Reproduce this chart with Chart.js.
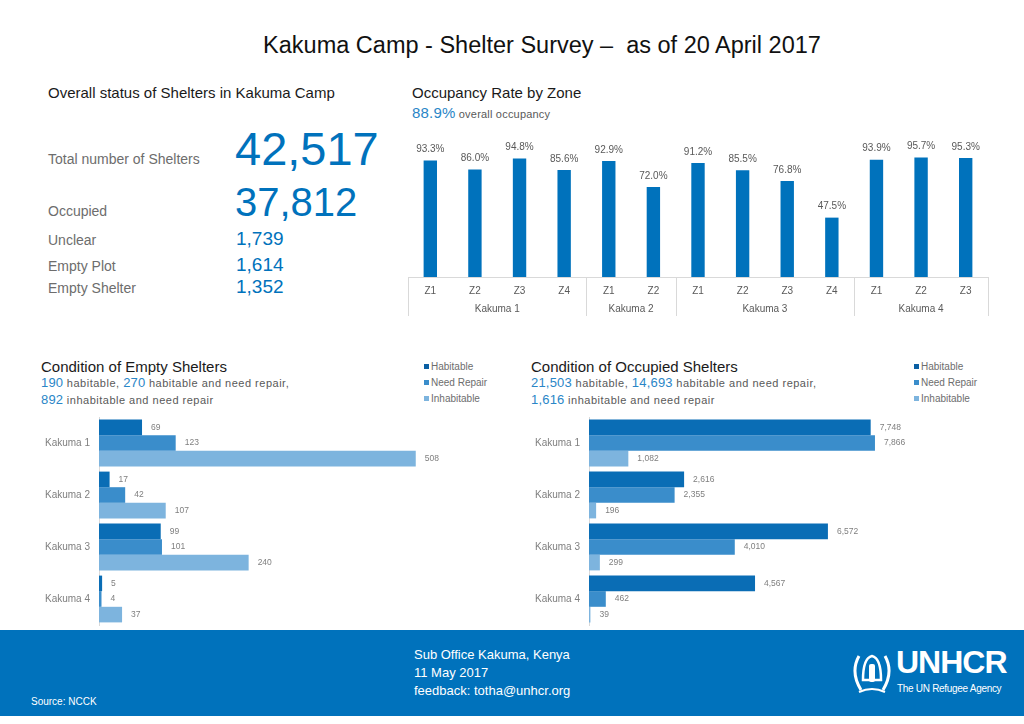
<!DOCTYPE html>
<html>
<head>
<meta charset="utf-8">
<title>Kakuma Camp - Shelter Survey</title>
<script src="https://cdn.jsdelivr.net/npm/chart.js@4/dist/chart.umd.min.js"></script>
<style>
  body { margin: 0; width: 1024px; height: 724px; position: relative; background: #fff;
         font-family: "Liberation Sans", Arial, sans-serif; color: #262626; overflow: hidden; }
  .abs { position: absolute; white-space: nowrap; }
  .blue { color: #0072bc; }
  .gray { color: #6d6d6d; }
  .hdr { font-size: 15px; color: #1a1a1a; }
  .sub { font-size: 11px; color: #595959; letter-spacing: 0.5px; }
  .sub b { font-weight: normal; font-size: 13px; color: #2a86c7; letter-spacing: 0.2px; }
  .legend div { font-size: 10px; color: #6d6d6d; height: 16px; line-height: 16px; }
  .legend span { display: inline-block; width: 5px; height: 5px; margin-right: 2px; vertical-align: 1px; }
  canvas { position: absolute; }
  #footer { position: absolute; left: 0; top: 630px; width: 1024px; height: 86px; background: #0072bc; color: #fff; }
</style>
</head>
<body>

<div class="abs" style="left:0;width:1084px;text-align:center;top:32px;font-size:23.5px;color:#111;">Kakuma Camp - Shelter Survey &ndash;&nbsp; as of 20 April 2017</div>

<!-- overall status block -->
<div class="abs hdr" style="left:48px;top:84px;">Overall status of Shelters in Kakuma Camp</div>
<div class="abs gray" style="left:48px;top:151px;font-size:14px;">Total number of Shelters</div>
<div class="abs blue" style="left:235px;top:121px;font-size:47px;">42,517</div>
<div class="abs gray" style="left:48px;top:203px;font-size:14px;">Occupied</div>
<div class="abs blue" style="left:235px;top:180px;font-size:40px;">37,812</div>
<div class="abs gray" style="left:48px;top:232px;font-size:14px;">Unclear</div>
<div class="abs blue" style="left:236px;top:228px;font-size:19px;">1,739</div>
<div class="abs gray" style="left:48px;top:258px;font-size:14px;">Empty Plot</div>
<div class="abs blue" style="left:236px;top:254px;font-size:19px;">1,614</div>
<div class="abs gray" style="left:48px;top:280px;font-size:14px;">Empty Shelter</div>
<div class="abs blue" style="left:236px;top:276px;font-size:19px;">1,352</div>

<!-- occupancy -->
<div class="abs hdr" style="left:412px;top:84px;">Occupancy Rate by Zone</div>
<div class="abs sub" style="left:412px;top:104px;letter-spacing:0.2px;"><b style="font-size:15px;">88.9%</b> overall occupancy</div>
<canvas id="occChart" width="596" height="192" style="left:400px;top:130px;"></canvas>

<!-- empty shelters -->
<div class="abs hdr" style="left:41px;top:358px;">Condition of Empty Shelters</div>
<div class="abs sub" style="left:41px;top:375px;"><b>190</b> habitable, <b>270</b> habitable and need repair,</div>
<div class="abs sub" style="left:41px;top:392px;"><b>892</b> inhabitable and need repair</div>
<div class="abs legend" style="left:424px;top:359px;">
  <div><span style="background:#0a5fa3"></span>Habitable</div>
  <div><span style="background:#3a8dcb"></span>Need Repair</div>
  <div><span style="background:#7db4de"></span>Inhabitable</div>
</div>
<canvas id="emptyChart" width="460" height="238" style="left:30px;top:402px;"></canvas>

<!-- occupied shelters -->
<div class="abs hdr" style="left:531px;top:358px;">Condition of Occupied Shelters</div>
<div class="abs sub" style="left:531px;top:375px;"><b>21,503</b> habitable, <b>14,693</b> habitable and need repair,</div>
<div class="abs sub" style="left:531px;top:392px;"><b>1,616</b> inhabitable and need repair</div>
<div class="abs legend" style="left:914px;top:359px;">
  <div><span style="background:#0a5fa3"></span>Habitable</div>
  <div><span style="background:#3a8dcb"></span>Need Repair</div>
  <div><span style="background:#7db4de"></span>Inhabitable</div>
</div>
<canvas id="occupiedChart" width="470" height="238" style="left:520px;top:402px;"></canvas>

<div id="footer">
  <div class="abs" style="left:414px;top:16px;font-size:13px;line-height:18px;">Sub Office Kakuma, Kenya<br>11 May 2017<br>feedback: totha@unhcr.org</div>
  <div class="abs" style="left:31px;top:66px;font-size:10px;">Source: NCCK</div>
  <svg class="abs" style="left:849px;top:20px;" width="46" height="46" viewBox="0 0 46 46">
    <path d="M10 6 Q1 22 12 40" stroke="#fff" stroke-width="3" fill="none"/>
    <path d="M36 6 Q45 22 34 40" stroke="#fff" stroke-width="3" fill="none"/>
    <path d="M14 30 Q14 8 23 6 Q32 8 32 30 Z" fill="none" stroke="#fff" stroke-width="2.5"/>
    <rect x="20" y="14" width="6" height="18" rx="2" fill="#fff"/>
    <path d="M10 42 Q23 36 36 42" stroke="#fff" stroke-width="2" fill="none"/>
  </svg>
  <div class="abs" style="left:896px;top:14px;font-size:32px;font-weight:bold;letter-spacing:-1px;">UNHCR</div>
  <div class="abs" style="left:897px;top:53px;font-size:10px;letter-spacing:-0.3px;">The UN Refugee Agency</div>
</div>

<script>
// occupancy by zone
const zoneLabels = ['Z1', 'Z2', 'Z3', 'Z4', 'Z1', 'Z2', 'Z1', 'Z2', 'Z3', 'Z4', 'Z1', 'Z2', 'Z3'];
const zoneGroups = ['Kakuma 1', 'Kakuma 2', 'Kakuma 3', 'Kakuma 4'];
const zoneGroupSizes = [4, 2, 4, 3];
const occupancyRates = [93.3, 86.0, 94.8, 85.6, 92.9, 72.0, 91.2, 85.5, 76.8, 47.5, 93.9, 95.7, 95.3];

// shelter condition per camp
const camps = ['Kakuma 1', 'Kakuma 2', 'Kakuma 3', 'Kakuma 4'];
const emptyHabitable = [69, 17, 99, 5];
const emptyNeedRepair = [123, 42, 101, 4];
const emptyInhabitable = [508, 107, 240, 37];
const occHabitable = [7748, 2616, 6572, 4567];
const occNeedRepair = [7866, 2355, 4010, 462];
const occInhabitable = [1082, 196, 299, 39];

const FONT = '"Liberation Sans", Arial, sans-serif';
const colors = ['#0a6db5', '#3a8dcb', '#7db4de'];

// writes the value next to each bar
const valueLabels = {
  id: 'valueLabels',
  afterDatasetsDraw(chart, args, opts) {
    const ctx = chart.ctx;
    ctx.save();
    ctx.font = opts.size + 'px ' + FONT;
    ctx.fillStyle = opts.color;
    chart.data.datasets.forEach((ds, i) => {
      chart.getDatasetMeta(i).data.forEach((bar, j) => {
        const txt = opts.format(ds.data[j]);
        if (chart.options.indexAxis === 'y') {
          ctx.textAlign = 'left';
          ctx.textBaseline = 'middle';
          ctx.fillText(txt, bar.x + 9, bar.y);
        } else {
          ctx.textAlign = 'center';
          ctx.textBaseline = 'bottom';
          ctx.fillText(txt, bar.x, bar.y - 6);
        }
      });
    });
    ctx.restore();
  }
};

// group labels and separators under the zone axis
const zoneGroupAxis = {
  id: 'zoneGroupAxis',
  afterDraw(chart) {
    const ctx = chart.ctx;
    const x = chart.scales.x;
    const area = chart.chartArea;
    const bottom = area.bottom + 39;
    ctx.save();
    ctx.strokeStyle = '#d9d9d9';
    ctx.lineWidth = 1;
    ctx.beginPath();
    ctx.moveTo(area.left, area.bottom + 0.5);
    ctx.lineTo(area.right, area.bottom + 0.5);
    ctx.stroke();
    ctx.font = '10px ' + FONT;
    ctx.fillStyle = '#595959';
    ctx.textAlign = 'center';
    ctx.textBaseline = 'middle';
    let start = 0;
    const edges = [area.left];
    zoneGroupSizes.forEach((n, g) => {
      const end = start + n - 1;
      const right = end === zoneLabels.length - 1 ? area.right : (x.getPixelForValue(end) + x.getPixelForValue(end + 1)) / 2;
      const left = edges[edges.length - 1];
      edges.push(right);
      ctx.fillText(zoneGroups[g], (left + right) / 2, area.bottom + 32);
      start += n;
    });
    edges.forEach(px => {
      ctx.beginPath();
      ctx.moveTo(Math.round(px) + 0.5, area.bottom);
      ctx.lineTo(Math.round(px) + 0.5, bottom);
      ctx.stroke();
    });
    ctx.restore();
  }
};

new Chart(document.getElementById('occChart'), {
  type: 'bar',
  data: {
    labels: zoneLabels,
    datasets: [{
      data: occupancyRates,
      backgroundColor: '#0072bc',
      barPercentage: 0.3,
      categoryPercentage: 1
    }]
  },
  options: {
    responsive: false,
    animation: false,
    devicePixelRatio: 1,
    layout: { padding: { left: 8, right: 8, top: 22, bottom: 6 } },
    plugins: {
      legend: { display: false },
      tooltip: { enabled: false },
      valueLabels: { size: 10, color: '#595959', format: v => v.toFixed(1) + '%' }
    },
    scales: {
      x: {
        grid: { display: false, drawTicks: false },
        border: { display: false },
        ticks: { font: { family: FONT, size: 10 }, color: '#595959', padding: 8, maxRotation: 0 },
        afterFit(scale) { scale.height = 39; }
      },
      y: { display: false, min: 0, max: 100 }
    }
  },
  plugins: [valueLabels, zoneGroupAxis]
});

function conditionChart(id, habitable, needRepair, inhabitable, max) {
  new Chart(document.getElementById(id), {
    type: 'bar',
    data: {
      labels: camps,
      datasets: [
        { label: 'Habitable', data: habitable, backgroundColor: colors[0] },
        { label: 'Need Repair', data: needRepair, backgroundColor: colors[1] },
        { label: 'Inhabitable', data: inhabitable, backgroundColor: colors[2] }
      ]
    },
    options: {
      indexAxis: 'y',
      responsive: false,
      animation: false,
      devicePixelRatio: 1,
      datasets: { bar: { barPercentage: 1, categoryPercentage: 0.9 } },
      layout: { padding: { left: 0, right: 20, top: 3, bottom: 6 } },
      plugins: {
        legend: { display: false },
        tooltip: { enabled: false },
        valueLabels: { size: 8.5, color: '#7f7f7f', format: v => v.toLocaleString('en-US') }
      },
      scales: {
        x: { display: false, min: 0, max: max },
        y: {
          grid: { display: false, drawTicks: false },
          border: { display: true, color: '#d9d9d9' },
          ticks: { font: { family: FONT, size: 10 }, color: '#7f7f7f', padding: 9 },
          afterFit(scale) { scale.width = 69; }
        }
      }
    },
    plugins: [valueLabels]
  });
}

conditionChart('emptyChart', emptyHabitable, emptyNeedRepair, emptyInhabitable, 595);
conditionChart('occupiedChart', occHabitable, occNeedRepair, occInhabitable, 10480);
</script>
</body>
</html>
